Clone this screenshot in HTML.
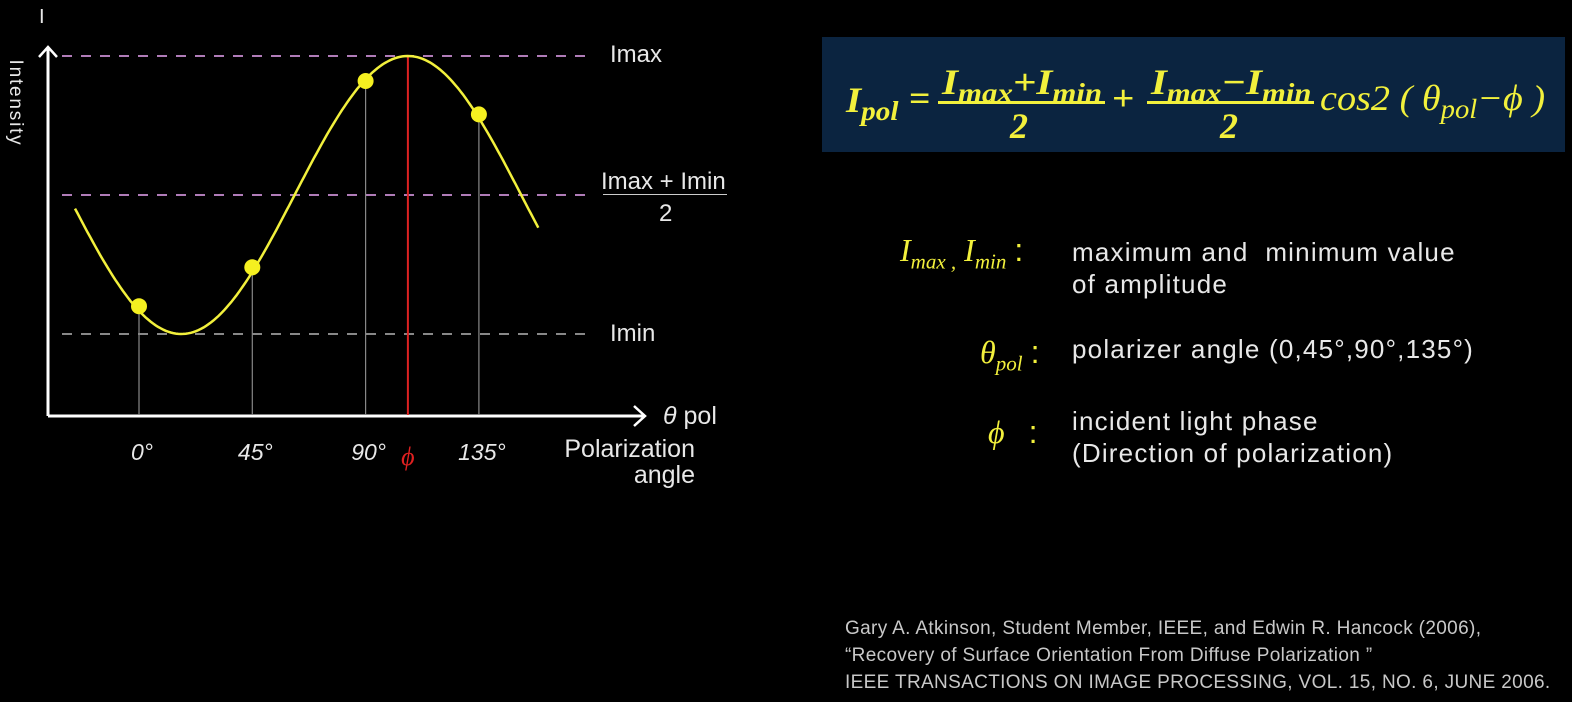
<!DOCTYPE html>
<html><head><meta charset="utf-8"><style>
body{margin:0;background:#000;width:1572px;height:702px;overflow:hidden;position:relative;font-family:"Liberation Sans",sans-serif;}
.t{position:absolute;white-space:nowrap;}
.w{color:#e8e8e8;font-size:26px;letter-spacing:1.2px;}
.l{color:#e8e8e8;font-size:24px;}
.y{color:#f2f03c;font-family:"Liberation Serif",serif;font-style:italic;}
.f{position:absolute;white-space:nowrap;font-family:"Liberation Serif",serif;font-style:italic;font-weight:bold;color:#f2f03c;font-size:36px;line-height:36px;transform-origin:0 0;}
.f sub{font-size:27px;vertical-align:-8px;line-height:0;}
</style></head><body>
<svg id="chart" width="760" height="500" style="position:absolute;left:0;top:0">
<g id="g"></g>
</svg>
<div class="t" style="left:39px;top:6px;color:#e8e8e8;font-size:20px">I</div>
<div class="t" style="left:-40px;top:92px;color:#e8e8e8;font-size:19px;letter-spacing:1.8px;transform:rotate(90deg);width:110px;text-align:center">Intensity</div>
<div class="t l" style="left:610px;top:41px">Imax</div>
<div class="t l" style="left:601px;top:168px">Imax + Imin</div>
<div class="t" style="left:603px;top:194px;width:124px;height:1px;background:#ccc"></div>
<div class="t l" style="left:659px;top:200px">2</div>
<div class="t l" style="left:610px;top:320px">Imin</div>
<div class="t" style="left:663px;top:402px;color:#e8e8e8;font-size:25px"><i>θ</i> pol</div>
<div class="t" style="left:562px;top:436px;color:#e8e8e8;font-size:25px;text-align:right;line-height:26px;width:133px">Polarization<br>angle</div>

<div class="t" style="left:822px;top:37px;width:743px;height:115px;background:#0b2440"></div>
<div>
<span class="f" data-fit="53" style="left:846px;top:82px">I<sub>pol</sub></span>
<span class="f" data-fit="22" style="left:909px;top:80px;font-style:normal">=</span>
<span class="f" data-fit="160" style="left:942px;top:64px">I<sub>max</sub>+I<sub>min</sub></span>
<span class="t" style="left:938px;top:101px;width:167px;height:3px;background:#f2f03c"></span>
<span class="f" style="left:1010px;top:108px">2</span>
<span class="f" data-fit="23" style="left:1112px;top:80px;font-style:normal">+</span>
<span class="f" data-fit="160" style="left:1151px;top:64px">I<sub>max</sub>−I<sub>min</sub></span>
<span class="t" style="left:1147px;top:101px;width:167px;height:3px;background:#f2f03c"></span>
<span class="f" style="left:1220px;top:108px">2</span>
<span class="f" data-fit="225" style="left:1320px;top:80px;font-weight:normal">cos2 ( θ<sub>pol</sub>−ϕ )</span>
</div>

<div class="t y" style="left:900px;top:232px;font-size:32px">I<sub style="font-size:21px">max ,</sub> I<sub style="font-size:21px">min</sub> <span style="font-style:normal;font-family:'Liberation Sans'">:</span></div>
<div class="t w" style="left:1072px;top:236px;line-height:32px">maximum and&nbsp; minimum value<br>of amplitude</div>
<div class="t y" style="left:980px;top:334px;font-size:32px">θ<sub style="font-size:21px">pol</sub> <span style="font-style:normal;font-family:'Liberation Sans'">:</span></div>
<div class="t w" style="left:1072px;top:334px">polarizer angle (0,45°,90°,135°)</div>
<div class="t y" style="left:988px;top:414px;font-size:32px">ϕ&nbsp;&nbsp;&nbsp;<span style="font-style:normal;font-family:'Liberation Sans'">:</span></div>
<div class="t w" style="left:1072px;top:405px;line-height:32px">incident light phase<br>(Direction of polarization)</div>
<div class="t" style="left:845px;top:615px;color:#c8c8c8;font-size:19px;letter-spacing:0.35px;line-height:27px">Gary A. Atkinson, Student Member, IEEE, and Edwin R. Hancock (2006),<br>“Recovery of Surface Orientation From Diffuse Polarization ”<br>IEEE TRANSACTIONS ON IMAGE PROCESSING, VOL. 15, NO. 6, JUNE 2006.</div>

<script>
const tickAngles=[0,45,90,135];
const tickLabels=["0°","45°","90°","135°"];
const sampleValues=[0.10,0.24,0.91,0.79];
const iMax=[1];
const iMin=[0];
const phase=[106.8];
document.querySelectorAll('[data-fit]').forEach(s=>{const w=+s.getAttribute('data-fit');s.style.transform='scaleX('+(w/s.offsetWidth)+')';});
const NS="http://www.w3.org/2000/svg";
const g=document.getElementById('g');
const X=a=>139+a*(113.3/45);
const Y=v=>334-v*278;
function el(t,a){const e=document.createElementNS(NS,t);for(const k in a)e.setAttribute(k,a[k]);g.appendChild(e);return e;}
let e;
e=el('line',{x1:48,y1:416,x2:644,y2:416,stroke:'#fff','stroke-width':3});


e=el('path',{d:'M634,406 L645,416 L634,426',fill:'none',stroke:'#fff','stroke-width':2.5});


e=el('line',{x1:48,y1:416,x2:48,y2:48,stroke:'#fff','stroke-width':3});


e=el('path',{d:'M39,57 L48,47 L57,57',fill:'none',stroke:'#fff','stroke-width':2.5});


const mid=(iMax[0]+iMin[0])/2, amp=(iMax[0]-iMin[0])/2;
[[iMax[0],'#b07cb8','imax-line'],[mid,'#b07cb8','mid-line'],[iMin[0],'#888','imin-line']].forEach(([v,c,n])=>{
 const l=el('line',{x1:62,x2:590,y1:Y(v),y2:Y(v),stroke:c,'stroke-width':2,'stroke-dasharray':'10 9'});
 
 
});
tickAngles.forEach((a,i)=>{
 const l=el('line',{x1:X(a),x2:X(a),y1:415,y2:Y(sampleValues[i]),stroke:'#888','stroke-width':1.2});
 
 
 const t=el('text',{x:X(a)+3,y:460,fill:'#e8e8e8','font-size':23,'font-style':'italic','text-anchor':'middle','font-family':'Liberation Sans'});
 t.textContent=tickLabels[i];
 
 
});
e=el('line',{x1:X(phase[0]),x2:X(phase[0]),y1:415,y2:Y(iMax[0]),stroke:'#d22','stroke-width':2});


e=el('text',{x:X(phase[0]),y:465,fill:'#e02020','font-size':26,'font-style':'italic','text-anchor':'middle','font-family':'Liberation Serif'});
e.textContent='ϕ';


let d='';
for(let a=-25.4;a<=159;a+=1){const v=mid+amp*Math.cos(2*(a-phase[0])*Math.PI/180);d+=(d?'L':'M')+X(a).toFixed(1)+','+Y(v).toFixed(1);}
e=el('path',{d:d,fill:'none',stroke:'#f2f03c','stroke-width':2.5});


tickAngles.forEach((a,i)=>{
 const c=el('circle',{cx:X(a),cy:Y(sampleValues[i]),r:8,fill:'#f5f020'});
 
 
});
</script>
</body></html>
